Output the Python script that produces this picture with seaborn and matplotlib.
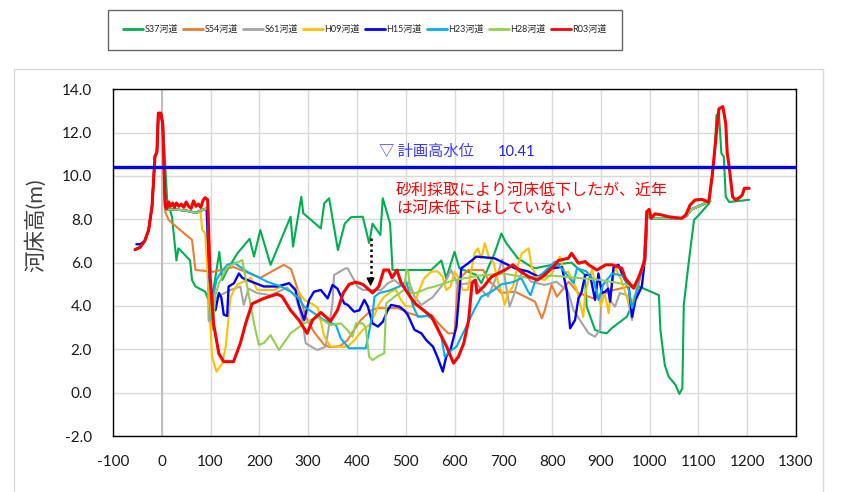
import matplotlib
matplotlib.use("Agg")
import matplotlib.pyplot as plt
import matplotlib.patches as mpatches
import pandas as pd
import seaborn as sns

# 共通区間（左岸の堤防・高水敷）
PEAK = [(-55, 6.6), (-45, 6.7), (-35, 7.0), (-27, 7.5), (-20, 8.6), (-14, 10.9),
        (-10, 11.1), (-7, 12.9), (-2, 12.9), (2, 12.4)]
LEFT_FLAT = [(7, 8.6), (10, 8.45), (30, 8.45), (50, 8.4), (70, 8.3), (85, 8.45), (92, 8.5)]
RIGHT_FLAT = [(995, 8.2), (1003, 8.05), (1040, 8.05), (1065, 8.05), (1075, 8.15),
              (1085, 8.45), (1100, 8.6), (1110, 8.7), (1124, 8.85)]

S37_MID = [(7, 10.5), (11, 8.9), (21, 8.1), (30, 6.1), (34, 6.66), (38, 6.58), (58, 6.1),
           (62, 5.2), (69, 4.9), (89, 4.66), (99, 4.1), (108, 5.05), (118, 6.5), (124, 5.2),
           (134, 5.66), (155, 6.43), (180, 7.1), (189, 6.28), (202, 7.5), (223, 5.9),
           (264, 8.12), (269, 6.74), (286, 9.04), (290, 8.28), (326, 7.58), (333, 8.74),
           (343, 8.97), (361, 6.58), (375, 7.8), (388, 8.1), (412, 8.12), (425, 6.9),
           (432, 7.8), (448, 7.28), (453, 8.97), (468, 7.8), (473, 5.66), (552, 5.66),
           (573, 6.1), (583, 5.28), (600, 6.5), (610, 5.74), (645, 5.43), (655, 5.05),
           (682, 6.43), (696, 7.35), (706, 6.9), (730, 6.2), (758, 5.8), (765, 5.74),
           (800, 5.9), (840, 6.0), (867, 5.45), (871, 3.97), (888, 2.9), (898, 2.8),
           (912, 2.74), (922, 2.97), (953, 3.5), (963, 3.97), (978, 4.9), (1019, 4.5),
           (1022, 2.9), (1031, 1.28), (1039, 0.74), (1053, 0.36), (1061, -0.06), (1067, 0.2),
           (1070, 4.05), (1080, 6.0), (1091, 7.97), (1104, 8.28), (1122, 8.74), (1132, 10.7),
           (1137, 12.8), (1142, 12.9), (1147, 11.05), (1152, 10.9), (1156, 9.04), (1163, 8.8),
           (1204, 8.9)]

S54_MID = [(7, 8.35), (14, 7.97), (38, 7.5), (62, 7.05), (69, 5.66), (106, 5.58), (147, 5.8),
           (202, 5.3), (250, 5.9), (265, 5.7), (281, 4.6), (295, 3.5), (312, 2.8), (333, 2.2),
           (345, 2.1), (365, 2.15), (381, 2.43), (388, 2.7), (408, 3.35), (429, 3.8),
           (443, 3.9), (484, 3.9), (508, 3.66), (532, 3.5), (552, 3.6), (573, 3.05),
           (587, 2.74), (600, 2.74), (607, 5.2), (628, 5.66), (659, 5.66), (669, 5.2),
           (690, 4.74), (696, 4.6), (724, 4.66), (765, 4.2), (779, 3.43), (785, 3.8),
           (799, 4.97), (810, 4.43), (834, 5.12), (854, 4.6), (885, 4.35), (920, 4.7),
           (957, 4.9), (975, 5.0), (990, 6.0)]

S61_MID = [(96, 3.35), (101, 3.1), (108, 4.3), (120, 4.5), (141, 4.74), (161, 4.9), (168, 4.05),
           (178, 4.8), (195, 4.6), (223, 4.5), (257, 4.85), (275, 4.4), (288, 3.35), (295, 2.28),
           (312, 2.05), (319, 1.97), (336, 2.12), (350, 4.12), (353, 5.43), (377, 5.74),
           (381, 5.74), (401, 4.9), (412, 4.74), (450, 4.74), (463, 5.05), (477, 5.2),
           (497, 4.82), (507, 5.1), (518, 4.43), (532, 4.05), (555, 4.4), (573, 4.9),
           (583, 5.2), (593, 5.66), (607, 4.97), (628, 5.05), (641, 5.2), (655, 4.74),
           (669, 4.43), (689, 5.5), (698, 6.15), (705, 5.0), (713, 3.97), (723, 4.6),
           (730, 5.2), (740, 5.6), (757, 5.12), (785, 4.97), (809, 5.12), (833, 4.66),
           (844, 3.8), (857, 3.35), (875, 2.74), (888, 2.58), (898, 2.9), (902, 4.9),
           (912, 5.2), (918, 4.28), (929, 3.97), (939, 4.6), (953, 4.5), (964, 3.35),
           (970, 4.28), (988, 6.1)]

H09_MID = [(79, 8.43), (83, 7.5), (89, 7.35), (96, 4.74), (103, 1.66), (112, 0.97), (124, 1.36),
           (131, 2.12), (141, 4.4), (148, 4.74), (155, 5.0), (175, 5.2), (182, 5.3), (196, 4.74),
           (230, 4.74), (250, 4.95), (261, 5.05), (278, 4.74), (292, 4.28), (312, 4.05),
           (320, 3.9), (333, 2.6), (346, 2.12), (367, 2.12), (381, 2.12), (395, 2.43),
           (412, 2.9), (429, 3.2), (446, 4.12), (456, 4.43), (470, 4.66), (480, 4.74),
           (490, 4.28), (500, 4.0), (515, 3.97), (528, 4.74), (538, 5.28), (552, 5.58),
           (565, 5.6), (576, 5.35), (583, 4.74), (592, 4.9), (600, 5.58), (608, 5.3),
           (617, 4.74), (627, 4.74), (641, 6.43), (648, 6.66), (655, 6.2), (662, 6.9),
           (670, 6.3), (680, 6.0), (690, 5.05), (697, 4.6), (703, 4.05), (710, 4.6),
           (720, 4.9), (730, 5.9), (738, 6.43), (752, 6.66), (758, 5.8), (770, 5.3),
           (785, 5.2), (800, 5.5), (816, 6.28), (826, 5.5), (833, 5.6), (850, 4.8),
           (864, 3.5), (868, 4.6), (875, 5.2), (882, 5.7), (893, 4.6), (900, 4.0),
           (908, 4.6), (916, 3.66), (920, 4.6), (929, 5.8), (942, 5.2), (953, 4.43),
           (960, 3.97), (975, 4.8), (988, 6.1)]

H15_START = [(-52, 6.85), (-44, 6.85)]
H15_MID = [(98, 5.28), (103, 4.43), (110, 3.8), (117, 4.6), (122, 4.4), (127, 3.6), (134, 3.54),
           (137, 4.9), (148, 5.05), (158, 5.5), (165, 5.3), (175, 5.2), (209, 4.9), (237, 4.9),
           (261, 5.05), (274, 4.74), (281, 4.05), (292, 3.35), (302, 4.28), (312, 4.66),
           (326, 4.74), (340, 4.35), (350, 4.97), (360, 4.8), (374, 4.12), (381, 4.05),
           (394, 3.74), (405, 3.8), (415, 4.28), (422, 4.0), (432, 3.2), (443, 3.05),
           (453, 3.27), (463, 3.8), (470, 4.05), (487, 3.97), (497, 3.8), (504, 3.6),
           (518, 2.9), (532, 2.74), (542, 2.43), (556, 2.12), (566, 1.59), (576, 0.97),
           (583, 1.66), (592, 2.0), (604, 3.05), (614, 5.74), (628, 5.97), (645, 6.28),
           (682, 6.2), (703, 5.97), (724, 5.74), (750, 5.6), (772, 5.35), (799, 5.74),
           (820, 5.8), (830, 4.74), (837, 2.97), (847, 3.35), (854, 4.35), (860, 4.6),
           (868, 5.43), (878, 5.43), (888, 4.28), (895, 5.5), (902, 4.6), (909, 4.66),
           (915, 4.8), (919, 4.2), (926, 5.8), (936, 5.9), (945, 5.4), (957, 4.9),
           (964, 3.5), (971, 4.28), (984, 4.9), (991, 6.28)]

H23_MID = [(95, 8.4), (100, 3.35), (106, 4.5), (112, 5.2), (120, 5.5), (134, 5.9), (148, 6.0),
           (175, 5.58), (202, 5.28), (216, 5.12), (244, 4.9), (264, 4.66), (278, 4.43),
           (292, 3.97), (333, 3.35), (357, 3.12), (367, 2.5), (384, 2.05), (418, 2.05),
           (432, 3.6), (436, 4.43), (446, 4.6), (465, 4.7), (487, 4.9), (501, 5.12),
           (508, 4.6), (515, 4.0), (525, 3.5), (545, 3.55), (560, 3.3), (573, 2.58),
           (580, 1.66), (590, 1.9), (604, 2.12), (624, 3.05), (640, 3.8), (655, 4.43),
           (676, 4.66), (696, 5.0), (720, 5.1), (737, 5.28), (751, 4.66), (756, 4.5),
           (765, 5.12), (785, 5.6), (806, 6.05), (825, 5.6), (844, 5.05), (851, 5.74),
           (870, 5.6), (885, 5.2), (895, 4.28), (905, 5.0), (923, 5.5), (945, 5.4),
           (955, 5.0), (964, 3.9), (972, 4.6), (988, 6.1)]

H28_MID = [(95, 8.55), (100, 4.0), (104, 2.9), (110, 4.5), (117, 5.05), (134, 5.8), (165, 6.12),
           (175, 4.9), (189, 3.2), (199, 2.2), (210, 2.3), (223, 2.66), (240, 1.97), (264, 2.74),
           (292, 3.2), (319, 3.5), (346, 3.12), (367, 3.2), (380, 2.9), (391, 2.58), (398, 3.2),
           (412, 3.2), (418, 3.0), (425, 1.66), (432, 1.5), (445, 1.7), (456, 1.82), (460, 4.12),
           (477, 4.43), (497, 4.74), (501, 5.66), (505, 5.6), (510, 4.6), (521, 4.6),
           (545, 4.82), (560, 4.9), (600, 5.2), (650, 5.4), (700, 5.5), (750, 5.3), (800, 5.4),
           (850, 5.3), (900, 5.2), (950, 5.0), (970, 4.8), (990, 6.0)]

R03_MID = [(7, 8.6), (10, 8.5), (14, 8.8), (18, 8.6), (22, 8.75), (26, 8.55), (30, 8.75), (35, 8.6),
           (40, 8.7), (45, 8.55), (50, 8.8), (55, 8.6), (60, 8.5), (65, 8.85), (70, 8.6), (75, 8.7),
           (80, 8.55), (85, 8.9), (89, 9.0), (94, 8.9), (99, 5.35), (106, 3.2), (117, 1.8),
           (127, 1.43), (147, 1.43), (161, 2.28), (172, 3.2), (185, 4.1), (209, 4.35), (237, 4.55),
           (247, 4.43), (264, 3.8), (281, 3.35), (298, 2.74), (309, 3.35), (326, 3.7), (346, 3.3),
           (360, 3.8), (372, 4.6), (384, 5.0), (398, 5.1), (412, 5.0), (425, 4.75), (432, 4.6),
           (445, 4.9), (455, 5.66), (465, 5.66), (472, 5.3), (482, 5.66), (490, 5.1), (500, 4.74),
           (510, 4.4), (520, 4.1), (540, 3.74), (553, 3.5), (570, 2.74), (584, 2.12), (598, 1.36),
           (608, 1.66), (619, 2.28), (629, 3.35), (636, 5.05), (643, 5.2), (646, 4.6), (660, 4.9),
           (676, 5.35), (703, 5.66), (720, 5.9), (735, 5.6), (752, 5.35), (770, 5.2), (785, 5.43),
           (806, 5.9), (813, 6.1), (833, 6.2), (840, 6.43), (854, 5.97), (868, 6.05), (875, 5.9),
           (892, 5.66), (910, 5.9), (923, 5.9), (943, 5.74), (950, 5.28), (967, 4.82), (978, 5.35),
           (990, 6.1), (994, 8.35), (999, 8.46), (1003, 8.05), (1011, 8.25), (1025, 8.2),
           (1038, 8.12), (1052, 8.08), (1066, 8.05), (1074, 8.2), (1083, 8.66), (1093, 8.89),
           (1107, 8.92), (1121, 8.8), (1128, 9.97), (1137, 12.0), (1142, 13.1), (1150, 13.2),
           (1156, 12.43), (1159, 11.05), (1163, 10.43), (1170, 9.04), (1176, 8.9), (1184, 9.0),
           (1190, 9.12), (1194, 9.43), (1204, 9.43)]

SERIES = ["S37河道", "S54河道", "S61河道", "H09河道", "H15河道", "H23河道", "H28河道", "R03河道"]
COLORS = ["#00B050", "#ED7D31", "#A5A5A5", "#FFC000", "#0000FF", "#00B0F0", "#92D050", "#FF0000"]
WIDTHS = [1.5, 1.5, 1.5, 1.5, 1.7, 1.5, 1.5, 2.2]

POINTS = {
    "S37河道": PEAK + S37_MID,
    "S54河道": PEAK + S54_MID + RIGHT_FLAT,
    "S61河道": PEAK + LEFT_FLAT + S61_MID + RIGHT_FLAT,
    "H09河道": PEAK + LEFT_FLAT[:5] + H09_MID + RIGHT_FLAT,
    "H15河道": H15_START + PEAK[2:] + LEFT_FLAT + H15_MID + RIGHT_FLAT,
    "H23河道": PEAK + LEFT_FLAT + H23_MID + RIGHT_FLAT,
    "H28河道": PEAK + LEFT_FLAT + H28_MID + RIGHT_FLAT,
    "R03河道": PEAK + R03_MID,
}

HWL = 10.41
ARROW_X, ARROW_FROM, ARROW_TO = 428, 7.15, 4.78

rows = []
for name in SERIES:
    for x, y in POINTS[name]:
        rows.append({"series": name, "dist": x, "elev": y})
df = pd.DataFrame(rows)

sns.set_theme(style="white")
plt.rcParams["font.family"] = ["Lato", "Noto Sans CJK JP", "DejaVu Sans"]
plt.rcParams["axes.unicode_minus"] = False

W, H = 843, 492
fig = plt.figure(figsize=(W / 100, H / 100), dpi=100)
ax = fig.add_axes([113 / W, 56 / H, 683 / W, 346.7 / H])

ax.set_xlim(-100, 1300)
ax.set_ylim(-2, 14)
ax.set_xticks(range(-100, 1301, 100))
ax.set_yticks([-2, 0, 2, 4, 6, 8, 10, 12, 14])
ax.set_yticklabels([f"{v:.1f}" for v in ax.get_yticks()])
ax.grid(True, color="#D9D9D9", lw=1)
ax.set_axisbelow(True)
ax.axvline(0, color="#BFBFBF", lw=1.4, zorder=1)

for name, color, lw in zip(SERIES, COLORS, WIDTHS):
    sns.lineplot(data=df[df["series"] == name], x="dist", y="elev", sort=False,
                 estimator=None, color=color, lw=lw, label=name, ax=ax)

ax.axhline(HWL, color="#0000FF", lw=2.4, zorder=5)

handles, labels = ax.get_legend_handles_labels()
if ax.get_legend() is not None:
    ax.get_legend().remove()

for sp in ax.spines.values():
    sp.set_color("black")
    sp.set_linewidth(1)
ax.tick_params(length=0, labelsize=11, colors="#1a1a1a")
ax.tick_params(axis="x", pad=14)
ax.tick_params(axis="y", pad=15)
ax.set_xlabel("")
ax.set_ylabel("")

ax.text(445, 11.12, "▽ 計画高水位", color="#3B3BFF", fontsize=11, va="center",
        family=["Noto Sans CJK JP", "DejaVu Sans"])
ax.text(689, 11.12, "10.41", color="#2020FF", fontsize=10.5, va="center")
ax.text(480, 9.35, "砂利採取により河床低下したが、近年", color="#FF0000", fontsize=11.5, va="center",
        family=["Noto Sans CJK JP", "DejaVu Sans"])
ax.text(480, 8.51, "は河床低下はしていない", color="#FF0000", fontsize=11.5, va="center",
        family=["Noto Sans CJK JP", "DejaVu Sans"])

ax.plot([ARROW_X, ARROW_X], [ARROW_FROM, ARROW_TO + 0.4], ls=(0, (1, 1.2)), lw=1.8, color="black", zorder=6)
ax.annotate("", xy=(ARROW_X, ARROW_TO), xytext=(ARROW_X, ARROW_TO + 0.55),
            arrowprops=dict(arrowstyle="-|>", color="black", lw=1, mutation_scale=12), zorder=6)

fig.text(35 / W, 1 - 225 / H, "河床高(m)", rotation=90, fontsize=15.5, color="#404040",
         ha="center", va="center")

fig.patches.append(mpatches.Rectangle((14 / W, -0.01), 808.7 / W, (H - 69) / H + 0.01,
                                      transform=fig.transFigure, fill=False,
                                      edgecolor="#D9D9D9", lw=1))

leg = fig.legend(handles, labels, loc="center", bbox_to_anchor=(365 / W, 1 - 30 / H), ncol=8,
                 fontsize=6.5, frameon=True, fancybox=False, handlelength=2.2,
                 handletextpad=0.15, columnspacing=0.6, borderpad=1.7)
leg.get_frame().set_edgecolor("#404040")
leg.get_frame().set_linewidth(1)
for line in leg.get_lines():
    line.set_linewidth(2)

fig.savefig("out.png", dpi=100)
